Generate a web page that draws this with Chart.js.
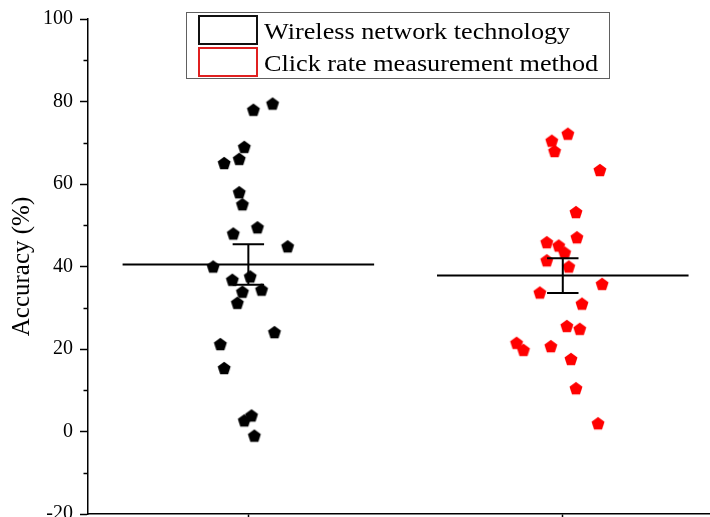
<!DOCTYPE html>
<html>
<head>
<meta charset="utf-8">
<title>Accuracy comparison</title>
<script src="https://cdn.jsdelivr.net/npm/chart.js@4.4.1/dist/chart.umd.min.js"></script>
<style>
  html, body { margin: 0; padding: 0; background: #fff; overflow: hidden; }
  #wrap { width: 710px; height: 517px; overflow: hidden; position: relative; }
  canvas { display: block; }
</style>
</head>
<body>
<div id="wrap"><canvas id="chart" width="728" height="560"></canvas></div>
<script>
// Group names (legend entries)
const groupNames = ['Wireless network technology', 'Click rate measurement method'];
const groupCenters = [1, 2];

// Individual accuracy measurements (%) and their jittered x positions
const wirelessAccuracy = [79.5, 78.0, 69.0, 66.1, 65.1, 58.0, 55.1, 49.5, 48.0, 44.9, 40.0,
                          37.6, 36.8, 34.4, 33.9, 31.2, 24.1, 21.2, 15.4, 3.9, 2.7, -1.0];
const wirelessX = [1.077, 1.016, 0.987, 0.971, 0.923, 0.971, 0.981, 1.029, 0.952, 1.125, 0.888,
                   1.006, 0.949, 1.042, 0.981, 0.965, 1.083, 0.911, 0.923, 1.010, 0.987, 1.019];

const clickAccuracy = [72.2, 70.5, 68.0, 63.4, 53.2, 47.1, 45.9, 45.1, 43.4, 41.5, 40.0,
                       35.8, 33.7, 31.0, 25.6, 24.9, 21.5, 19.8, 20.7, 17.6, 10.5, 2.0];
const clickX = [2.016, 1.965, 1.974, 2.118, 2.042, 2.045, 1.949, 1.987, 2.006, 1.949, 2.019,
                2.125, 1.927, 2.061, 2.013, 2.054, 1.853, 1.875, 1.962, 2.026, 2.042, 2.112];

// Group means and error (half-length of the error bar)
const meanAccuracy = [40.5, 37.8];
const errorAccuracy = [4.9, 4.2];

// Y axis range and tick step
const yMin = -20, yMax = 100, yStep = 10, yLabelStep = 20;

const SERIF = "'Liberation Serif', 'Times New Roman', serif";

// Filled pentagon marker image
function pentagon(color, r) {
  const size = Math.ceil(2 * r + 2);
  const c = document.createElement('canvas');
  c.width = size; c.height = size;
  const g = c.getContext('2d');
  const cx = size / 2;
  const cy = size / 2 + (r - r * Math.cos(Math.PI / 5)) / 2;
  g.beginPath();
  for (let i = 0; i < 5; i++) {
    const a = -Math.PI / 2 + i * 2 * Math.PI / 5;
    const px = cx + r * Math.cos(a), py = cy + r * Math.sin(a);
    if (i === 0) g.moveTo(px, py); else g.lineTo(px, py);
  }
  g.closePath();
  g.fillStyle = color;
  g.fill();
  return c;
}

const pts = (xs, ys) => ys.map((y, i) => ({ x: xs[i], y }));

// Mean lines: one horizontal segment per group, separated by gaps
const meanLine = [];
groupCenters.forEach((c, i) => {
  meanLine.push({ x: c - 0.4, y: meanAccuracy[i] }, { x: c + 0.4, y: meanAccuracy[i] }, { x: c, y: null });
});
// Error bars: stem plus top and bottom caps
const errorBars = [];
groupCenters.forEach((c, i) => {
  const lo = meanAccuracy[i] - errorAccuracy[i], hi = meanAccuracy[i] + errorAccuracy[i];
  errorBars.push({ x: c, y: lo }, { x: c, y: hi }, { x: c, y: null });
  errorBars.push({ x: c - 0.05, y: hi }, { x: c + 0.05, y: hi }, { x: c, y: null });
  errorBars.push({ x: c - 0.05, y: lo }, { x: c + 0.05, y: lo }, { x: c, y: null });
});

// Boxed legend drawn at the top of the plot
const boxedLegend = {
  id: 'boxedLegend',
  afterDraw(chart) {
    const ctx = chart.ctx;
    const ds = chart.data.datasets.slice(0, 2);
    ctx.save();
    ctx.strokeStyle = '#606060';
    ctx.lineWidth = 1;
    ctx.strokeRect(186.5, 12.5, 423, 66);
    ds.forEach((d, i) => {
      const top = 16 + i * 32;
      ctx.strokeStyle = d.swatchColor;
      ctx.lineWidth = 2;
      ctx.strokeRect(199, top, 58, 28);
      ctx.save();
      ctx.translate(264, top + 22.5);
      ctx.scale(1.14, 1);
      ctx.fillStyle = '#000';
      ctx.font = '23px ' + SERIF;
      ctx.textBaseline = 'alphabetic';
      ctx.textAlign = 'left';
      ctx.fillText(d.label, 0, 0);
      ctx.restore();
    });
    ctx.restore();
  }
};

// Shorter minor tick marks on the y axis
const minorTicks = {
  id: 'minorTicks',
  afterDraw(chart) {
    const s = chart.scales.y;
    const ctx = chart.ctx;
    ctx.save();
    ctx.strokeStyle = '#000';
    ctx.lineWidth = 1.5;
    s.ticks.forEach(t => {
      if (t.value % yLabelStep !== 0) {
        const py = Math.round(s.getPixelForValue(t.value)) + 0.5;
        ctx.beginPath();
        ctx.moveTo(s.right - 4.5, py);
        ctx.lineTo(s.right, py);
        ctx.stroke();
      }
    });
    ctx.restore();
  }
};

new Chart(document.getElementById('chart'), {
  type: 'scatter',
  data: {
    datasets: [
      {
        label: groupNames[0],
        data: pts(wirelessX, wirelessAccuracy),
        pointStyle: pentagon('#000000', 6.8),
        pointRadius: 7,
        swatchColor: '#111111'
      },
      {
        label: groupNames[1],
        data: pts(clickX, clickAccuracy),
        pointStyle: pentagon('#ff0000', 6.8),
        pointRadius: 7,
        swatchColor: '#e02020'
      },
      {
        label: 'mean',
        data: meanLine,
        showLine: true,
        spanGaps: false,
        borderColor: '#000',
        borderWidth: 2,
        pointRadius: 0,
        order: -1
      },
      {
        label: 'error',
        data: errorBars,
        showLine: true,
        spanGaps: false,
        borderColor: '#000',
        borderWidth: 2,
        pointRadius: 0,
        order: -1
      }
    ]
  },
  options: {
    responsive: false,
    animation: false,
    devicePixelRatio: 1,
    layout: { padding: { top: 19, right: 0, bottom: 0, left: 0 } },
    plugins: { legend: { display: false }, tooltip: { enabled: false } },
    scales: {
      x: {
        type: 'linear',
        min: 0.49,
        max: 2.5,
        afterBuildTicks(scale) { scale.ticks = groupCenters.map(v => ({ value: v })); },
        afterFit(scale) { scale.height = 46; },
        ticks: { display: false },
        grid: { drawOnChartArea: false, drawTicks: true, tickLength: 8, tickColor: '#000', tickWidth: 1.5 },
        border: { display: true, color: '#000', width: 1.5 }
      },
      y: {
        min: yMin,
        max: yMax,
        afterFit(scale) { scale.width = 88; },
        ticks: {
          stepSize: yStep,
          autoSkip: false,
          padding: 7,
          color: '#000',
          font: { family: SERIF, size: 20 },
          callback: v => (v % yLabelStep === 0 ? v : '')
        },
        grid: {
          drawOnChartArea: false,
          drawTicks: true,
          tickLength: 8,
          tickWidth: 1.5,
          tickColor: c => (c.tick && c.tick.value % yLabelStep === 0 ? '#000' : 'rgba(0,0,0,0)')
        },
        border: { display: true, color: '#000', width: 1.5 },
        title: {
          display: true,
          text: 'Accuracy (%)',
          color: '#000',
          font: { family: SERIF, size: 25 },
          padding: { top: 7, bottom: 0 }
        }
      }
    }
  },
  plugins: [boxedLegend, minorTicks]
});
</script>
</body>
</html>
